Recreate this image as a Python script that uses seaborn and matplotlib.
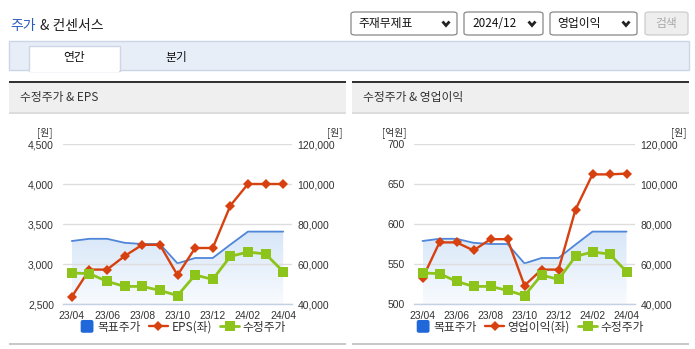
import numpy as np
import pandas as pd
import matplotlib
matplotlib.use("Agg")
import matplotlib.pyplot as plt
import seaborn as sns
from matplotlib.patches import Rectangle, FancyBboxPatch, Patch
from matplotlib.lines import Line2D
from matplotlib.legend_handler import HandlerPatch
from matplotlib import font_manager

# ---- data -------------------------------------------------------------
months = ["23/04", "23/05", "23/06", "23/07", "23/08", "23/09", "23/10",
          "23/11", "23/12", "24/01", "24/02", "24/03", "24/04"]
target_price = [71500, 72600, 72600, 70600, 70000, 70000, 60300,
                63000, 63000, 69700, 76200, 76200, 76200]
adj_price = [55500, 55200, 51300, 48800, 48800, 46800, 44200,
             54500, 52300, 63800, 66000, 65000, 56200]
eps = [2590, 2930, 2930, 3100, 3240, 3240, 2860,
       3200, 3200, 3730, 4000, 4000, 4000]
op_profit = [532, 577, 577, 567, 581, 581, 523,
             543, 543, 618, 662, 662, 663]

eps_ticks = [2500, 3000, 3500, 4000, 4500]
op_ticks = [500, 550, 600, 650, 700]
price_ticks = [40000, 60000, 80000, 100000, 120000]

df = pd.DataFrame({"idx": np.arange(len(months)), "month": months,
                   "target": target_price, "price": adj_price,
                   "eps": eps, "op": op_profit})

# ---- style ------------------------------------------------------------
W, H = 695, 349
sns.set_theme(style="white")
KR = "Noto Sans CJK KR"
installed = {f.name for f in font_manager.fontManager.ttflist}
NUM = "Liberation Sans Narrow" if "Liberation Sans Narrow" in installed else "Liberation Sans"
plt.rcParams["font.family"] = [KR, "DejaVu Sans"]

RED = "#d6410f"
GREEN = "#8cc41c"
BLUE_LINE = "#4f86da"
BLUE_KEY = "#2067d9"
TXT = "#333333"
AXIS = "#c3d1e2"

fig = plt.figure(figsize=(W / 100, H / 100), dpi=100)
fig.patch.set_facecolor("white")


def fx(x):
    return x / W


def fy(y):
    return 1 - y / H


def rect(x0, y0, x1, y1, **kw):
    fig.add_artist(Rectangle((fx(x0), fy(y1)), (x1 - x0) / W, (y1 - y0) / H,
                             transform=fig.transFigure, **kw))


def rbox(x0, y0, x1, y1, **kw):
    fig.add_artist(FancyBboxPatch((fx(x0), fy(y1)), (x1 - x0) / W, (y1 - y0) / H,
                                  boxstyle="round,pad=0,rounding_size=0.006",
                                  transform=fig.transFigure, **kw))


def text(x, y, s, **kw):
    kw.setdefault("color", TXT)
    fig.text(fx(x), fy(y), s, **kw)


def chevron(cx, cy):
    xs = [cx - 3.5, cx, cx + 3.5]
    ys = [cy - 2, cy + 2, cy - 2]
    fig.add_artist(Line2D([fx(v) for v in xs], [fy(v) for v in ys],
                          transform=fig.transFigure, color="#222222", lw=2.0,
                          solid_capstyle="butt", solid_joinstyle="miter"))


# ---- page header --------------------------------------------------------
text(10, 26, "주가", fontsize=10, color="#2a5cbf", va="center")
text(40.5, 26, "& 컨센서스", fontsize=10, color="#222222", va="center")

for (x0, x1, label, tx) in [(351, 457, "주재무제표", 358),
                            (464, 543, "2024/12", 472),
                            (550, 637, "영업이익", 557)]:
    rbox(x0, 12, x1, 35, facecolor="white", edgecolor="#888888", lw=0.9)
    text(tx, 23.5, label, fontsize=8.5, va="center", color="#111111")
    chevron(x1 - 11, 23.5)
rbox(645, 12, 688, 35, facecolor="#eeeeee", edgecolor="#cccccc", lw=0.9)
text(666.5, 23.5, "검색", fontsize=8.5, va="center", ha="center", color="#aaaaaa")

# tab bar
rect(9, 41, 689, 70, facecolor="#e8eef8", edgecolor="#ccd6e4", lw=1)
rect(29, 46, 120, 71, facecolor="white", edgecolor="#ccd6e4", lw=1)
rect(29.6, 69, 119.4, 71.5, facecolor="white", edgecolor="none")
text(74.5, 58, "연간", fontsize=8.5, va="center", ha="center", color="#111111")
text(176, 58, "분기", fontsize=8.5, va="center", ha="center", color="#111111")


# ---- chart panels -------------------------------------------------------
def square_key(legend, orig_handle, xdescent, ydescent, width, height, fontsize):
    s = height * 1.55
    return FancyBboxPatch((-xdescent + (width - s) / 2 + 2, -ydescent + (height - s) / 2),
                          s, s, boxstyle="round,pad=0,rounding_size=1.5")


def panel(px0, px1, title, L, R, col, left_ticks, left_unit, left_unit_x,
          right_unit_x, left_name):
    top, bottom = 144, 304
    # frame: dark top rule, grey header, bottom rule
    rect(px0, 81, px1, 83, facecolor="#333333", edgecolor="none")
    rect(px0, 83, px1, 112, facecolor="#efefef", edgecolor="none")
    rect(px0, 112, px1, 113.5, facecolor="#dddddd", edgecolor="none")
    rect(px0, 343, px1, 345, facecolor="#c8c8c8", edgecolor="none")
    text(px0 + 11, 98, title, fontsize=8.5, va="center", color="#333333")

    box = [fx(L), fy(bottom), (R - L) / W, (bottom - top) / H]
    xlim = (-0.5, len(months) - 0.5)

    # target price area (drawn underneath)
    ax_bg = fig.add_axes(box)
    ax_bg.set_xlim(*xlim)
    ax_bg.set_ylim(price_ticks[0], price_ticks[-1])
    ax_bg.axis("off")
    poly = ax_bg.fill_between(df["idx"], df["target"], price_ticks[0],
                              facecolor="none", edgecolor="none")
    top_v = max(target_price)
    grad = np.linspace(1, 0, 256).reshape(-1, 1)
    cmap = matplotlib.colors.LinearSegmentedColormap.from_list(
        "tp", ["#f8fbfe", "#d7e6f8"])
    im = ax_bg.imshow(grad, cmap=cmap, aspect="auto", origin="upper",
                      extent=[0, len(months) - 1, price_ticks[0], top_v],
                      zorder=1)
    im.set_clip_path(poly.get_paths()[0], transform=ax_bg.transData)
    sns.lineplot(data=df, x="idx", y="target", ax=ax_bg, color=BLUE_LINE,
                 lw=1.3, legend=False, zorder=2)
    ax_bg.set_xlim(*xlim)
    ax_bg.set_ylim(price_ticks[0], price_ticks[-1])

    # left axis series
    ax = fig.add_axes(box)
    ax.patch.set_alpha(0)
    sns.lineplot(data=df, x="idx", y=col, ax=ax, color=RED, lw=1.7,
                 marker="D", markersize=5, markeredgewidth=0, legend=False)
    ax.set_xlim(*xlim)
    ax.set_ylim(left_ticks[0], left_ticks[-1])
    ax.set_yticks(left_ticks)
    ax.set_yticklabels([f"{v:,}" for v in left_ticks])
    ax.set_xticks(range(0, len(months), 2))
    ax.set_xticklabels(months[::2])
    ax.set_xticks([-0.5, len(months) - 0.5], minor=True)
    ax.set_xlabel("")
    ax.set_ylabel("")
    ax.yaxis.grid(True, color="#dddddd", lw=1)
    ax.xaxis.grid(False)
    ax.set_axisbelow(True)
    for s in ["top", "left", "right"]:
        ax.spines[s].set_visible(False)
    ax.spines["bottom"].set_color(AXIS)
    ax.spines["bottom"].set_linewidth(1)
    ax.tick_params(axis="y", length=0, pad=6.5, labelsize=7.5,
                   labelcolor=TXT, labelfontfamily=NUM)
    ax.tick_params(axis="x", which="major", length=0, pad=5, labelsize=7.5,
                   labelcolor=TXT, labelfontfamily=NUM)
    ax.tick_params(axis="x", which="minor", length=5, width=1, color=AXIS,
                   direction="out")

    # right axis series
    ax2 = ax.twinx()
    sns.lineplot(data=df, x="idx", y="price", ax=ax2, color=GREEN, lw=2.0,
                 marker="s", markersize=6.5, markeredgewidth=0, legend=False)
    ax2.set_xlim(*xlim)
    ax2.set_ylim(price_ticks[0], price_ticks[-1])
    ax2.set_yticks(price_ticks)
    ax2.set_yticklabels([f"{v:,}" for v in price_ticks])
    ax2.set_ylabel("")
    ax2.grid(False)
    for s in ax2.spines.values():
        s.set_visible(False)
    ax2.tick_params(axis="y", length=0, pad=4, labelsize=7.5,
                    labelcolor=TXT, labelfontfamily=NUM)

    text(left_unit_x, 133, left_unit, fontsize=7, ha="right", va="center")
    text(right_unit_x, 133, "[원]", fontsize=7, ha="right", va="center")

    handles = [Patch(facecolor=BLUE_KEY, edgecolor="none"),
               Line2D([], [], color=RED, lw=1.7, marker="D", markersize=5,
                      markeredgewidth=0),
               Line2D([], [], color=GREEN, lw=2.0, marker="s", markersize=6.5,
                      markeredgewidth=0)]
    fig.legend(handles, ["목표주가", left_name, "수정주가"],
               loc="center", bbox_to_anchor=(fx((L + R) / 2 + 3), fy(327)),
               ncol=3, frameon=False, fontsize=8.5, handlelength=1.6,
               handletextpad=0.3, columnspacing=0.7, labelcolor=TXT,
               handler_map={Patch: HandlerPatch(patch_func=square_key)})


panel(9, 345.5, "수정주가 & EPS", 63, 292, "eps", eps_ticks, "[원]", 53,
      342, "EPS(좌)")
panel(352, 689, "수정주가 & 영업이익", 414, 635, "op", op_ticks, "[억원]", 406,
      686, "영업이익(좌)")

fig.savefig("out.png", dpi=100, facecolor="white")
